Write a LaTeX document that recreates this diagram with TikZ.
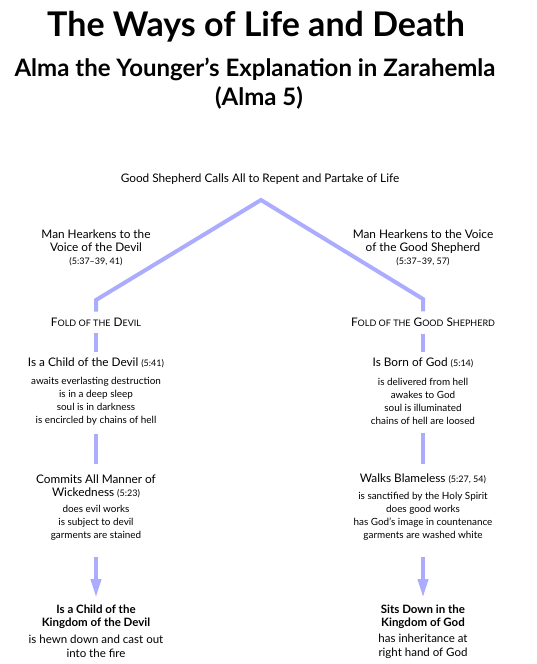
\documentclass[tikz,border=0pt]{standalone}
\usepackage{fontspec}
\setmainfont{Lato}
\usetikzlibrary{arrows.meta}
\definecolor{waycolor}{RGB}{172,172,255}
\newcommand{\fsc}[1]{{\fontsize{9}{13}\selectfont #1}}
\newcommand{\vref}[1]{{\fontsize{9}{13}\selectfont #1}}

\begin{document}
\begin{tikzpicture}[x=1pt,y=-1pt,
    way/.style={draw=waycolor,line width=4pt},
    wayarrow/.style={draw=waycolor,line width=3.5pt,-{Triangle[width=10pt,length=18pt]}},
    txt/.style={align=center,inner sep=0pt,font=\fontsize{11.8}{13}\selectfont},
    lst/.style={align=center,inner sep=0pt,font=\fontsize{9.9}{13}\selectfont},
    big/.style={align=center,inner sep=0pt,font=\fontsize{11.5}{14}\selectfont}]
    \useasboundingbox (0,0) rectangle (536,664);

    % titles
    \node[anchor=base,font=\fontsize{34}{38}\bfseries] (title) at (256,36) {The Ways of Life and Death};
    \node[anchor=base,font=\fontsize{24}{27}\bfseries] (subtitle) at (255,76) {Alma the Younger’s Explanation in Zarahemla};
    \node[anchor=base,font=\fontsize{24}{27}\bfseries] (chapter) at (259,105) {(Alma 5)};

    \node[txt] (call) at (260,179) {Good Shepherd Calls All to Repent and Partake of Life};
    \coordinate (apex) at (261,200);
    \coordinate (kneeL) at (96,300);
    \coordinate (kneeR) at (423,299);

    % left way
    \node[txt] (hearkL) at (96,248) {Man Hearkens to the\\Voice of the Devil\\\vref{(5:37--39, 41)}};
    \node[txt] (foldL) at (96,322) {F\fsc{OLD OF THE} D\fsc{EVIL}};
    \node[txt] (childL) at (96,363) {Is a Child of the Devil \vref{(5:41)}};
    \node[lst] (childLlist) at (96,401) {awaits everlasting destruction\\is in a deep sleep\\soul is in darkness\\is encircled by chains of hell};
    \node[txt] (commitL) at (96,486) {Commits All Manner of\\Wickedness \vref{(5:23)}};
    \node[lst] (commitLlist) at (96,523) {does evil works\\is subject to devil\\garments are stained};
    \node[big,font=\fontsize{11.5}{12.5}\bfseries] (kingL) at (96,617) {Is a Child of the\\Kingdom of the Devil};
    \node[big] (endL) at (96,646) {is hewn down and cast out\\into the fire};

    % right way
    \node[txt] (hearkR) at (423,248) {Man Hearkens to the Voice\\of the Good Shepherd\\\vref{(5:37--39, 57)}};
    \node[txt] (foldR) at (423,322) {F\fsc{OLD OF THE} G\fsc{OOD} S\fsc{HEPHERD}};
    \node[txt] (childR) at (423,363) {Is Born of God \vref{(5:14)}};
    \node[lst] (childRlist) at (423,401) {is delivered from hell\\awakes to God\\soul is illuminated\\chains of hell are loosed};
    \node[txt] (commitR) at (423,479) {Walks Blameless \vref{(5:27, 54)}};
    \node[lst] (commitRlist) at (423,516.5) {is sanctified by the Holy Spirit\\does good works\\has God’s image in countenance\\garments are washed white};
    \node[big,font=\fontsize{11.5}{12.5}\bfseries] (kingR) at (423,617) {Sits Down in the\\Kingdom of God};
    \node[big] (endR) at (423,646) {has inheritance at\\right hand of God};

    \draw[way,shorten <=6pt,shorten >=6pt] (foldL.north) -- (kneeL) -- (apex) -- (kneeR) -- (foldR.north);
    \draw[way,shorten <=7pt,shorten >=6pt] (foldL.south) -- (childL.north);
    \draw[way,shorten <=7pt,shorten >=6pt] (foldR.south) -- (childR.north);
    \draw[way,shorten <=9pt,shorten >=10pt] (childLlist.south) -- (commitL.north);
    \draw[way,shorten <=9pt,shorten >=10pt] (childRlist.south) -- (commitR.north|-commitL.north);
    \draw[wayarrow,shorten <=16pt,shorten >=8pt] (commitLlist.south) -- (kingL.north);
    \draw[wayarrow,shorten <=16pt,shorten >=8pt] (commitRlist.south) -- (kingR.north);
\end{tikzpicture}
\end{document}
